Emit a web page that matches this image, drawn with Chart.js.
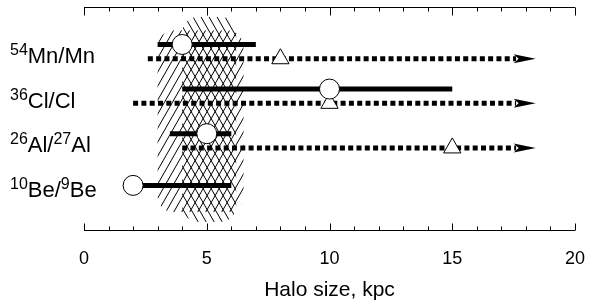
<!DOCTYPE html>
<html>
<head>
<meta charset="utf-8">
<script src="https://cdn.jsdelivr.net/npm/chart.js@4.4.0/dist/chart.umd.min.js"></script>
<style>
  html, body { margin: 0; padding: 0; background: #fff; }
</style>
</head>
<body>
<canvas id="haloChart" width="589" height="300"></canvas>
<script>
// --- data ---
// labels: list of [superscript, text] pieces
const isotopes = [
  [['54', 'Mn/Mn']],
  [['36', 'Cl/Cl']],
  [['26', 'Al/'], ['27', 'Al']],
  [['10', 'Be/'], ['9', 'Be']]
];
const rows = [4, 3, 2, 1];

// solid bars with circle
const solidFrom = [3.0, 4.0, 3.5, 1.6];
const solidTo   = [7.0, 15.0, 6.0, 6.0];
const circleAt  = [4.0, 10.0, 5.0, 2.0];

// dotted lower limits with triangle and arrow
const dottedFrom = [2.6, 2.0, 4.0];
const dottedTo   = [17.6, 17.6, 17.6];
const triangleAt = [8, 10, 15];
const arrowTip   = 18.4;

// hatched bands: x range (kpc), y range (row units)
const bandSlashX = [3.0, 6.5];
const bandSlashY = [0.40, 4.48];
const bandBackX  = [4.0, 6.2];
const bandBackY  = [0.18, 4.78];

const FONT = "'Liberation Sans', Arial, Helvetica, sans-serif";

const datasets = [];
rows.forEach(function(r, i) {
  const hasDot = i < dottedFrom.length;
  const ys = hasDot ? r + 0.16 : r;
  datasets.push({
    data: [{x: solidFrom[i], y: ys}, {x: solidTo[i], y: ys}],
    borderColor: '#000', borderWidth: 5, borderCapStyle: 'butt',
    pointRadius: 0, order: 1
  });
  datasets.push({
    data: [{x: circleAt[i], y: ys}],
    showLine: false, pointStyle: 'circle', pointRadius: 10,
    backgroundColor: '#fff', borderColor: '#000', borderWidth: 1, order: 0
  });
  if (hasDot) {
    const yd = r - 0.16;
    datasets.push({
      data: [{x: dottedFrom[i], y: yd}, {x: dottedTo[i], y: yd}],
      borderColor: '#000', borderWidth: 5, borderDash: [5, 3.3], borderCapStyle: 'butt',
      pointRadius: 0, order: 3, isDotted: true
    });
    datasets.push({
      data: [{x: triangleAt[i], y: yd}],
      showLine: false, pointStyle: 'triangle', pointRadius: 10,
      backgroundColor: '#fff', borderColor: '#000', borderWidth: 1, order: 2
    });
  }
});

function hatch(ctx, left, right, top, bottom, dir) {
  const step = 8, slope = 1.75;
  const span = (bottom - top) / slope;
  ctx.save();
  ctx.beginPath();
  ctx.roundRect(left, top, right - left, bottom - top, 16);
  ctx.clip();
  ctx.beginPath();
  for (let x0 = left - span - step; x0 < right + step; x0 += step) {
    if (dir === '/') {
      ctx.moveTo(x0, bottom);
      ctx.lineTo(x0 + span, top);
    } else {
      ctx.moveTo(x0, top);
      ctx.lineTo(x0 + span, bottom);
    }
  }
  ctx.lineWidth = 1;
  ctx.strokeStyle = '#000';
  ctx.stroke();
  ctx.restore();
}

function noPad(s) {
  s.paddingLeft = 0; s.paddingRight = 0; s.paddingTop = 0; s.paddingBottom = 0;
}

const decor = {
  id: 'decor',
  beforeDatasetsDraw(chart) {
    const {ctx, scales: {x, y}} = chart;
    hatch(ctx, x.getPixelForValue(bandSlashX[0]), x.getPixelForValue(bandSlashX[1]),
      y.getPixelForValue(bandSlashY[1]), y.getPixelForValue(bandSlashY[0]), '/');
    hatch(ctx, x.getPixelForValue(bandBackX[0]), x.getPixelForValue(bandBackX[1]),
      y.getPixelForValue(bandBackY[1]), y.getPixelForValue(bandBackY[0]), '\\');
  },
  afterDatasetsDraw(chart) {
    const {ctx, scales: {x, y}} = chart;
    // arrow heads on the dotted limits
    chart.data.datasets.forEach(function(ds) {
      if (!ds.isDotted) return;
      const last = ds.data[ds.data.length - 1];
      const py = y.getPixelForValue(last.y);
      const xb = x.getPixelForValue(last.x - 0.1);
      const xt = x.getPixelForValue(arrowTip);
      ctx.save();
      ctx.fillStyle = '#000';
      ctx.beginPath();
      ctx.moveTo(xt, py);
      ctx.lineTo(xb, py - 4.5);
      ctx.lineTo(xb + 5, py);
      ctx.lineTo(xb, py + 4.5);
      ctx.closePath();
      ctx.fill();
      ctx.restore();
    });
  },
  afterDraw(chart) {
    const {ctx, chartArea, scales: {x, y}} = chart;
    ctx.save();
    ctx.strokeStyle = '#000';
    ctx.lineWidth = 1;
    const top = Math.round(chartArea.top) + 0.5;
    const bot = Math.round(chartArea.bottom) + 0.5;
    const x0 = x.getPixelForValue(0), x1 = x.getPixelForValue(20);
    ctx.beginPath();
    ctx.moveTo(x0, top); ctx.lineTo(x1, top);
    ctx.moveTo(x0, bot); ctx.lineTo(x1, bot);
    x.ticks.forEach(function(t) {
      const px = Math.round(x.getPixelForValue(t.value)) + 0.5;
      const major = t.value % 5 === 0;
      ctx.moveTo(px, top); ctx.lineTo(px, top + (major ? 8 : 4));
      ctx.moveTo(px, bot); ctx.lineTo(px, bot - (major ? 7 : 4));
    });
    ctx.stroke();

    // row labels with superscripts
    ctx.fillStyle = '#000';
    ctx.textBaseline = 'alphabetic';
    rows.forEach(function(r, i) {
      const base = y.getPixelForValue(r - 0.08) + 8;
      let px = 10;
      isotopes[i].forEach(function(part) {
        ctx.font = '16px ' + FONT;
        ctx.fillText(part[0], px, base - 8);
        px += ctx.measureText(part[0]).width;
        ctx.font = '22px ' + FONT;
        ctx.fillText(part[1], px, base);
        px += ctx.measureText(part[1]).width;
      });
    });
    ctx.restore();
  }
};

new Chart(document.getElementById('haloChart'), {
  type: 'line',
  data: { datasets: datasets },
  options: {
    responsive: false,
    animation: false,
    events: [],
    layout: { autoPadding: false, padding: { left: 84, right: 14, top: 7, bottom: 0 } },
    plugins: { legend: { display: false }, tooltip: { enabled: false } },
    scales: {
      x: {
        type: 'linear',
        min: 0, max: 20,
        afterFit: function(s) { s.height = 70; noPad(s); },
        grid: { display: false, drawTicks: false },
        border: { display: false },
        ticks: {
          stepSize: 1, autoSkip: false, maxRotation: 0, padding: 18,
          color: '#000', font: { family: FONT, size: 18 },
          callback: function(v) { return v % 5 === 0 ? v : ''; }
        },
        title: {
          display: true, text: 'Halo size, kpc', color: '#000',
          font: { family: FONT, size: 21 }, padding: { top: 0, bottom: -3 }
        }
      },
      y: {
        type: 'linear', display: false, min: 0, max: 5,
        afterFit: noPad
      }
    }
  },
  plugins: [decor]
});
</script>
</body>
</html>
